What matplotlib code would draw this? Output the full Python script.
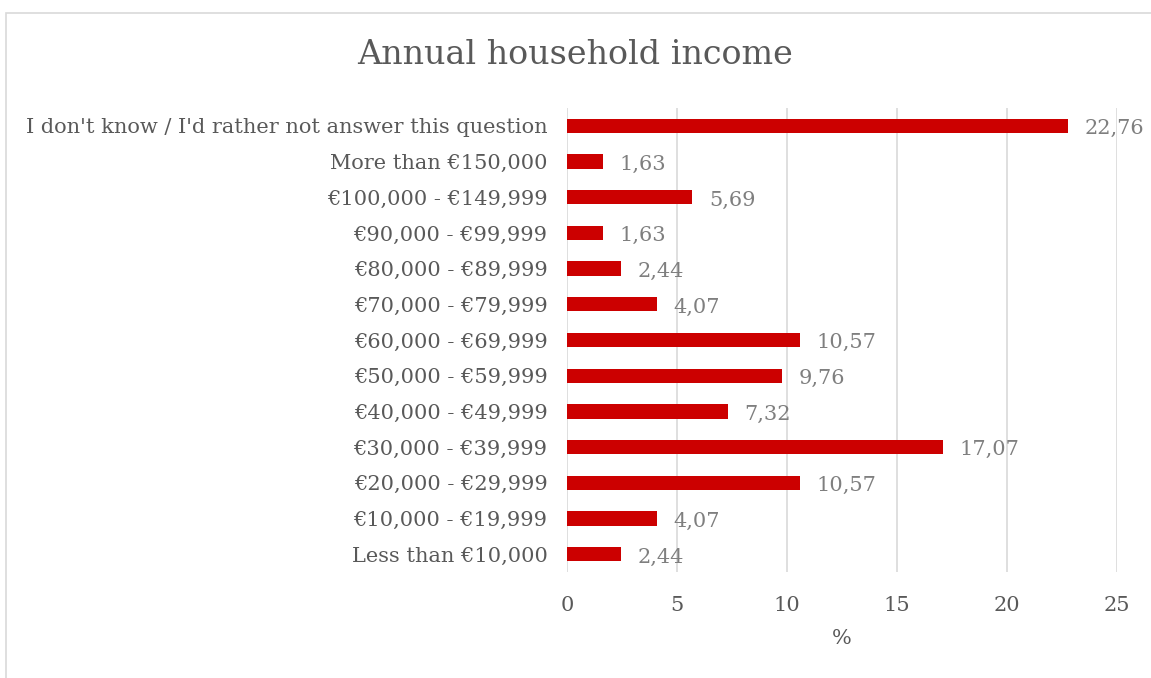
import matplotlib
matplotlib.use("Agg")
import matplotlib.pyplot as plt
from matplotlib.patches import Rectangle

# Data (bottom to top)
categories = ["Less than €10,000", "€10,000 - €19,999", "€20,000 - €29,999",
              "€30,000 - €39,999", "€40,000 - €49,999", "€50,000 - €59,999",
              "€60,000 - €69,999", "€70,000 - €79,999", "€80,000 - €89,999",
              "€90,000 - €99,999", "€100,000 - €149,999", "More than €150,000",
              "I don't know / I'd rather not answer this question"]
values = [2.44, 4.07, 10.57, 17.07, 7.32, 9.76, 10.57, 4.07, 2.44, 1.63, 5.69, 1.63, 22.76]
xticks = [0, 5, 10, 15, 20, 25]

plt.rcParams['font.family'] = ['DejaVu Serif']
text_col = '#595959'

fig = plt.figure(figsize=(11.51, 6.78), dpi=100)
# chart border
fig.patches.append(Rectangle((6 / 1151, -0.01), 1.0, 1 - 13 / 678 + 0.01, transform=fig.transFigure,
                             fill=False, edgecolor='#d9d9d9', linewidth=1.2))

ax = fig.add_axes([567 / 1151, 1 - 572 / 678, 550 / 1151, 464 / 678])
y = range(len(categories))
ax.barh(y, values, height=0.4, color='#cc0000', zorder=3)
for yi, v in zip(y, values):
    ax.annotate(f"{v:.2f}".replace('.', ','), (v, yi), xytext=(12, -2), textcoords='offset points',
                ha='left', va='center', fontsize=15, color='#7f7f7f')

ax.set_xlim(0, 25)
ax.set_ylim(-0.5, len(categories) - 0.5)
ax.set_xticks(xticks)
ax.set_xticklabels([str(t) for t in xticks], fontsize=15, color=text_col)
ax.set_yticks(list(y))
ax.set_yticklabels(categories, fontsize=15, color=text_col)
ax.tick_params(length=0, pad=14)
ax.tick_params(axis='x', pad=17)
ax.xaxis.grid(True, color='#d9d9d9', linewidth=1.2, zorder=0)
for s in ax.spines.values():
    s.set_visible(False)
ax.set_xlabel('%', fontsize=15, color=text_col, labelpad=10)

fig.text(0.5, 1 - 55 / 678, 'Annual household income', ha='center', va='center',
         fontsize=24, color=text_col)

fig.savefig('out.png', dpi=100)
